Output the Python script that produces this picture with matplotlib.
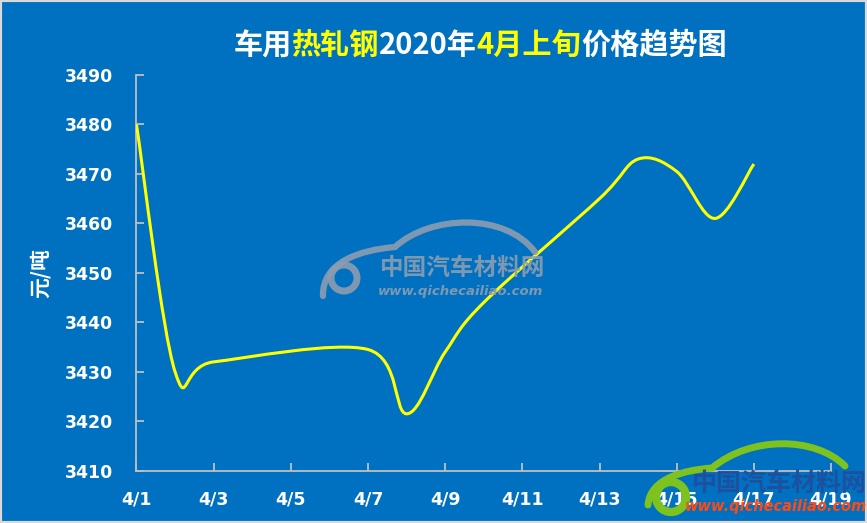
import matplotlib
matplotlib.use("Agg")
import matplotlib.pyplot as plt
from matplotlib.path import Path
from matplotlib.patches import PathPatch, Ellipse, Rectangle

plt.rcParams['font.family'] = ['Noto Sans CJK SC', 'DejaVu Sans']

# 数据：2020年4月上旬车用热轧钢价格（元/吨）
days = [1, 2, 3, 7, 8, 9, 10, 13, 14, 15, 16, 17]
prices = [3480, 3430, 3432, 3434.5, 3421.5, 3434, 3444, 3465, 3473, 3470.5, 3461, 3472]
tick_days = [1, 3, 5, 7, 9, 11, 13, 15, 17, 19]
tick_labels = ["4/%d" % d for d in tick_days]

BG = "#0070C0"
AXIS = "#BFBFBF"
W, H = 867, 523

fig = plt.figure(figsize=(8.67, 5.23), dpi=100)
fig.patch.set_facecolor(BG)
ax = fig.add_axes([0.1574, 0.1, 0.8011, 0.7566])
ax.set_facecolor(BG)


def px(x, y):
    # 像素坐标 -> figure 坐标（只用于水印）
    return (x / W, 1 - y / H)


# 平滑曲线（类似 Excel 的平滑线）
pts = list(zip(days, prices))
verts = [pts[0]]
codes = [Path.MOVETO]
n = len(pts)
for i in range(n - 1):
    p0 = pts[i - 1] if i > 0 else pts[i]
    p1 = pts[i]
    p2 = pts[i + 1]
    p3 = pts[i + 2] if i + 2 < n else pts[i + 1]
    c1 = (p1[0] + (p2[0] - p0[0]) / 6, p1[1] + (p2[1] - p0[1]) / 6)
    c2 = (p2[0] - (p3[0] - p1[0]) / 6, p2[1] - (p3[1] - p1[1]) / 6)
    verts += [c1, c2, p2]
    codes += [Path.CURVE4] * 3
ax.add_patch(PathPatch(Path(verts, codes), facecolor="none",
                       edgecolor="#FFFF00", lw=2.2, zorder=3))

ax.set_xlim(1, 19)
ax.set_ylim(3410, 3490)
ax.set_xticks(tick_days)
ax.set_xticklabels(tick_labels)
ax.set_yticks(range(3410, 3491, 10))

for s in ["top", "right"]:
    ax.spines[s].set_visible(False)
for s in ["left", "bottom"]:
    ax.spines[s].set_color(AXIS)
    ax.spines[s].set_linewidth(1.3)

ax.tick_params(axis="both", direction="in", length=5.5, width=1.3, color=AXIS,
               labelcolor="white")
ax.tick_params(axis="y", pad=17)
ax.tick_params(axis="x", pad=14)
for lab in ax.get_yticklabels() + ax.get_xticklabels():
    lab.set_fontfamily("DejaVu Sans")
    lab.set_fontweight("bold")
    lab.set_fontsize(12.5)

fig.text(*px(40, 273), "元/吨", rotation=90, color="white",
         fontsize=15, fontweight="bold", ha="center", va="center")

# 标题（分段着色）
parts = [("车用", "white"), ("热轧钢", "#FFFF00"), ("2020年", "white"),
         ("4月上旬", "#FFFF00"), ("价格趋势图", "white")]
renderer = fig.canvas.get_renderer()
texts = []
total = 0
for s, c in parts:
    t = fig.text(0, 1 - 45 / H, s, color=c, fontsize=21, fontweight="bold",
                 va="center", ha="left")
    w = t.get_window_extent(renderer).width
    texts.append((t, w))
    total += w
x0 = 480 - total / 2
for t, w in texts:
    t.set_x(x0 / W)
    x0 += w


def swoosh(points, color, lw, alpha=1.0):
    v = [px(*p) for p in points]
    c = [Path.MOVETO] + [Path.CURVE4] * (len(v) - 1)
    fig.patches.append(PathPatch(Path(v, c), facecolor="none", edgecolor=color,
                                 lw=lw, alpha=alpha, transform=fig.transFigure,
                                 capstyle="round"))


def ring(x, y, r, color, lw, alpha=1.0):
    fig.patches.append(Ellipse(px(x, y), 2 * r / W, 2 * r / H,
                               transform=fig.transFigure, facecolor="none",
                               edgecolor=color, lw=lw, alpha=alpha))


# 水印（中间）
wm = "#8C9DAF"
swoosh([(323, 296), (322, 262), (360, 250), (395, 247),
        (430, 215), (505, 212), (535, 252)], wm, 4.5, 0.9)
ring(344, 278, 13, wm, 5, 0.9)
fig.text(*px(463, 268), "中国汽车材料网", color=wm, fontsize=17,
         fontweight="bold", style="italic", ha="center", va="center", alpha=0.9)
fig.text(*px(461, 291), "www.qichecailiao.com", color=wm, fontsize=9.5,
         fontweight="bold", style="italic", ha="center", va="center",
         family="DejaVu Sans", alpha=0.9)

# 水印（右下角）
green = "#7DC21E"
swoosh([(648, 505), (650, 478), (685, 470), (712, 468),
        (750, 436), (815, 436), (845, 466)], green, 5)
ring(671, 497, 15, green, 6)
fig.text(*px(779, 484), "中国汽车材料网", color="#1F4F9E", fontsize=18,
         fontweight="bold", style="italic", ha="center", va="center", alpha=0.95)
fig.text(*px(776, 507), "www.qichecailiao.com", color="#FF4A14",
         fontsize=10.5, fontweight="bold", style="italic", ha="center",
         va="center", family="DejaVu Sans")

# 边框
fig.patches.append(Rectangle((0, 0), 1, 1, transform=fig.transFigure,
                             fill=False, edgecolor="#D9D9D9", lw=3))

fig.savefig("out.png", dpi=100, facecolor=BG)
